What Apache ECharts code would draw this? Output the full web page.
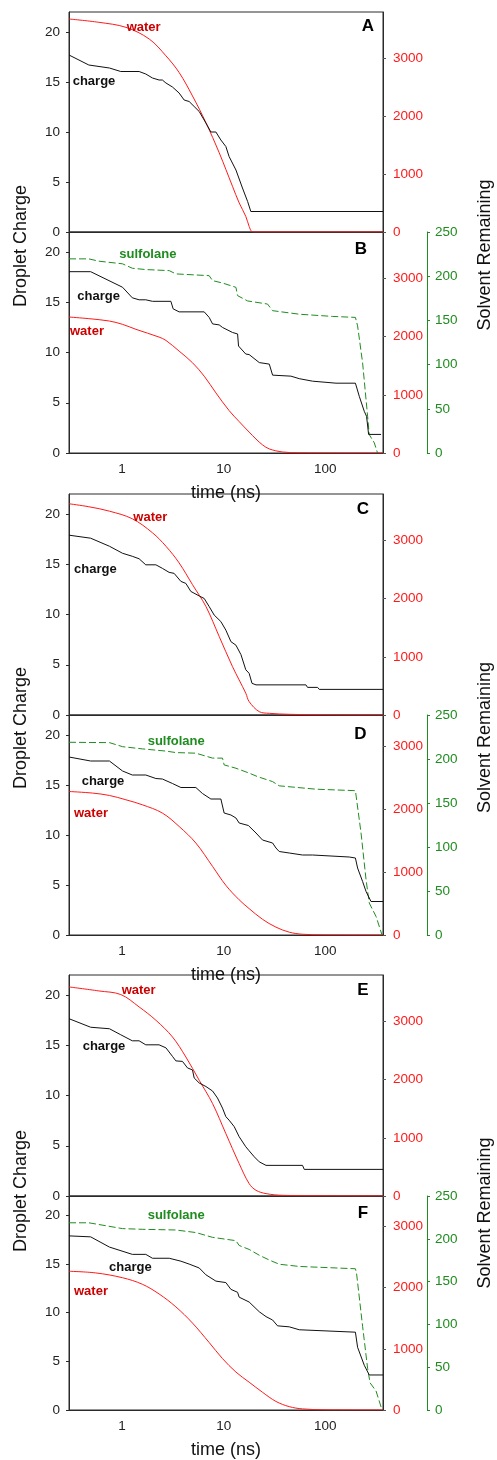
<!DOCTYPE html>
<html>
<head>
<meta charset="utf-8">
<script src="https://cdn.jsdelivr.net/npm/echarts@6/dist/echarts.min.js"></script>
<style>
html,body{margin:0;padding:0;background:#fff;}
#chart{width:497px;height:1460px;}
</style>
</head>
<body>
<div id="chart"></div>
<script>
// ---------- DATA ([time (ns), value]) ----------
const panelLetters = ['A','B','C','D','E','F'];
const timeTickLabels = [1, 10, 100];
const chargeTicks = [0, 5, 10, 15, 20];
const waterTicks = [0, 1000, 2000, 3000];
const sulfolaneTicks = [0, 50, 100, 150, 200, 250];

// Panel A
const chargeA = [[0.3,17.7],[0.47,16.7],[0.75,16.4],[0.97,16.05],[1.47,16.05],[1.71,15.8],[1.99,15.4],[2.31,15.2],[2.49,15.2],[2.7,14.9],[3.13,14.5],[3.64,13.9],[4.08,13.2],[4.57,13.05],[5.12,12.55],[5.74,12.05],[6.68,10.9],[7.48,10.0],[8.38,10.0],[9.38,9.2],[10.5,8.55],[11.3,7.55],[13.2,6.2],[15.3,4.4],[17.2,3.05],[18.5,2.05],[370,2.05]];
const waterA = [[0.3,3679],[0.59,3622],[1.09,3535],[1.85,3333],[2.7,3043],[3.64,2755],[4.93,2350],[6.68,1889],[9.03,1369],[12.2,790],[14.2,503],[16.5,270],[17.8,97],[18.9,10],[20.5,0],[370,0]];

// Panel B
const sulfolaneB = [[0.3,219.6],[0.47,219.6],[0.59,217],[1.01,214],[1.26,209],[1.71,207.5],[2.91,206.3],[3.38,202.6],[5.32,201.4],[7.19,200.6],[7.77,195],[9.73,192.3],[13.2,187.4],[13.7,178],[17.2,172],[27,168.5],[30.3,161],[55.4,157],[118,154.5],[198,153.4],[208,143.8],[233,102],[261,41.6],[271,20.8],[304,11.4],[327,0]];
const chargeB = [[0.3,18.05],[0.49,18.05],[1.01,16.5],[1.26,15.45],[1.47,15.25],[1.71,15.25],[1.99,15.1],[3.02,15.1],[3.18,14.35],[3.64,14.05],[6.43,14.05],[7.19,13.5],[7.77,12.85],[9.03,12.75],[9.73,12.5],[12.2,12.0],[13.7,11.85],[14.0,10.65],[16.5,9.85],[17.8,9.8],[22.4,9.0],[28.1,8.85],[30.3,7.75],[45.9,7.65],[55.4,7.4],[75,7.15],[127.5,6.95],[198,6.95],[216,5.65],[242,4.15],[255,3.65],[267,1.85],[354,1.85]];
const waterB = [[0.3,2338],[0.47,2310],[0.75,2269],[1.01,2212],[1.37,2126],[2.31,1993],[2.7,1936],[3.64,1752],[4.93,1552],[6.43,1321],[8.38,1034],[11.3,730],[14.2,540],[17.8,360],[20.8,240],[24.1,140],[28.1,70],[37.9,18],[55.4,4],[370,0]];

// Panel C
const chargeC = [[0.3,17.9],[0.49,17.6],[0.75,16.8],[1.01,16.1],[1.26,15.8],[1.47,15.55],[1.71,14.95],[2.15,14.95],[2.49,14.6],[2.9,14.2],[3.25,14.1],[3.79,13.3],[4.24,13.1],[4.75,12.3],[5.74,11.85],[6.43,11.6],[7.19,10.8],[8.06,9.95],[9.38,9.3],[10.5,8.45],[11.78,7.3],[13.2,6.95],[14.8,6.0],[16.5,4.5],[17.8,4.15],[19,3.15],[20.8,3.0],[64.5,3.0],[66.9,2.75],[84,2.75],[87.3,2.55],[370,2.55]];
const waterC = [[0.3,3632],[0.47,3581],[0.75,3505],[1.26,3374],[1.99,3133],[2.7,2902],[3.64,2615],[4.93,2241],[6.68,1867],[9.03,1350],[12.2,833],[16.5,374],[17.8,230],[22.4,57],[28.1,29],[44.2,12],[100,3],[370,0]];

// Panel D
const sulfolaneD = [[0.3,219],[0.75,218.6],[1.01,214],[1.58,211.5],[2.7,209],[3.38,207.3],[5.32,206.6],[7.77,201],[9.73,201],[10.1,193.3],[13.2,189.5],[17.8,184],[21.5,180],[30.3,174.3],[35.2,169.5],[81,165.7],[198,164],[201,163],[225,115.8],[252,62.8],[271,36.3],[316,21.1],[362,0]];
const chargeD = [[0.3,17.8],[0.49,17.4],[0.75,17.4],[1.01,16.4],[1.26,16.0],[1.71,16.0],[2.15,15.65],[2.49,15.6],[3.13,15.15],[3.79,14.75],[5.32,14.75],[6.18,14.15],[7.48,13.6],[9.38,13.6],[10.1,12.2],[11.78,12.0],[13.2,11.7],[14.2,11.2],[17.5,10.95],[20.8,10.2],[24.1,9.5],[30.3,9.2],[32.7,8.7],[35.2,8.35],[44.2,8.2],[59.7,8.0],[75,8.0],[77.9,7.85],[172,7.8],[198,7.7],[208,6.7],[233,5.35],[252,4.35],[282,3.35],[370,3.35]];
const waterD = [[0.3,2283],[0.51,2258],[0.75,2220],[1.09,2151],[1.58,2072],[2.49,1940],[3.64,1727],[5.32,1463],[7.77,1091],[10.5,790],[14.2,560],[17.8,420],[24.1,250],[32.7,125],[44.2,45],[59.7,12],[100,2],[370,0]];

// Panel E
const chargeE = [[0.3,17.65],[0.49,16.8],[0.75,16.65],[0.97,16.05],[1.26,15.45],[1.47,15.45],[1.71,15.05],[2.31,15.05],[2.7,14.75],[3.13,13.9],[3.38,13.45],[3.93,13.4],[4.4,12.75],[4.93,12.55],[5.12,11.75],[5.74,11.25],[6.68,10.9],[7.77,10.45],[8.69,9.75],[9.73,8.75],[10.5,7.9],[11.3,7.55],[12.7,6.9],[14.2,5.9],[16.5,4.9],[17.8,4.5],[20.0,3.9],[22.4,3.4],[26.1,3.05],[59.7,3.05],[62.1,2.65],[370,2.65]];
const waterE = [[0.3,3595],[0.59,3526],[0.97,3464],[1.47,3251],[2.15,3022],[3.13,2735],[4.24,2391],[5.74,1990],[7.77,1589],[10.5,1073],[14.2,557],[17.8,213],[20.8,98],[26.1,41],[37.9,12],[100,3],[370,0]];

// Panel F
const sulfolaneF = [[0.3,218.7],[0.47,218.7],[1.01,211.9],[1.58,211.1],[3.38,210.3],[5.32,207.3],[7.77,201.7],[13.2,197.8],[14.2,192.2],[17.8,187.6],[22.4,180.8],[28.1,175.2],[35.2,170.3],[55.4,167.7],[198,165],[203,160],[233,97.8],[261,48.7],[276,31.7],[316,22.2],[362,0]];
const chargeF = [[0.3,17.9],[0.49,17.8],[0.75,16.75],[1.26,16.0],[1.71,16.0],[1.99,15.6],[2.91,15.6],[3.79,15.3],[4.57,15.0],[5.74,14.6],[6.68,13.9],[8.38,13.25],[10.5,13.1],[11.78,12.4],[13.7,12.1],[14.2,11.6],[17.8,11.1],[22.4,10.1],[26.1,9.6],[30.3,9.25],[33.9,8.65],[44.2,8.55],[55.4,8.25],[198,8.0],[208,6.45],[242,4.6],[271,3.6],[370,3.6]];
const waterF = [[0.3,2269],[0.55,2242],[1.01,2163],[1.58,2057],[2.31,1898],[3.38,1687],[4.93,1422],[7.19,1104],[9.73,841],[13.2,620],[17.8,455],[24.1,290],[32.7,140],[44.2,55],[59.7,18],[100,3],[370,0]];

const panels = [
  {charge: chargeA, water: waterA, sulfolane: null, waterMax: 3800},
  {charge: chargeB, water: waterB, sulfolane: sulfolaneB, waterMax: 3800},
  {charge: chargeC, water: waterC, sulfolane: null, waterMax: 3800},
  {charge: chargeD, water: waterD, sulfolane: sulfolaneD, waterMax: 3500},
  {charge: chargeE, water: waterE, sulfolane: null, waterMax: 3800},
  {charge: chargeF, water: waterF, sulfolane: sulfolaneF, waterMax: 3500}
];

// ---------- LAYOUT / STYLE ----------
const gridTops = [12, 232, 494, 715, 975, 1196];
const gridHeights = [220, 221, 221, 220, 221, 220];
const FONT = "'Liberation Sans', Arial, Helvetica, sans-serif";
const RED = '#ff1a1a';
const RED_TEXT = '#cc0000';
const GREEN = '#1f8c1f';
const AXIS = '#2a2a2a';

const grids = [], xAxes = [], yAxes = [], series = [];
panels.forEach((p, i) => {
  grids.push({left: 69, width: 314, top: gridTops[i], height: gridHeights[i], show: true, borderColor: AXIS, borderWidth: 1, backgroundColor: 'transparent'});
  const hasX = (i % 2 === 1);
  xAxes.push({
    type: 'log', logBase: 10, gridIndex: i, min: 0.3, max: 370,
    axisLine: {show: true, lineStyle: {color: AXIS, width: 1}},
    axisTick: {show: false},
    splitLine: {show: false}, minorTick: {show: false},
    axisLabel: {show: hasX, color: '#222', fontSize: 13.5, fontFamily: FONT, margin: 9,
      formatter: v => { const l = Math.round(Math.log10(v) * 1000) / 1000; return (Number.isInteger(l) && timeTickLabels.includes(Math.round(v))) ? String(Math.round(v)) : ''; }},
    name: hasX ? 'time (ns)' : '', nameLocation: 'middle', nameGap: 31,
    nameTextStyle: {fontSize: 18, color: '#111', fontFamily: FONT}
  });
  const yBase = yAxes.length;
  yAxes.push({
    type: 'value', gridIndex: i, position: 'left', min: 0, max: 22, interval: 5,
    axisLine: {show: true, lineStyle: {color: AXIS}},
    axisTick: {show: true, length: 3, customValues: chargeTicks, lineStyle: {color: AXIS}},
    axisLabel: {customValues: chargeTicks, color: '#222', fontSize: 13.5, fontFamily: FONT, margin: 9},
    splitLine: {show: false}
  });
  yAxes.push({
    type: 'value', gridIndex: i, position: 'right', min: 0, max: p.waterMax, interval: 1000,
    axisLine: {show: true, lineStyle: {color: AXIS}},
    axisTick: {show: true, length: 3, customValues: waterTicks, lineStyle: {color: '#555'}},
    axisLabel: {customValues: waterTicks, color: RED, fontSize: 13.5, fontFamily: FONT, margin: 10,
      formatter: v => String(Math.round(v))},
    splitLine: {show: false}
  });
  if (p.sulfolane) {
    yAxes.push({
      type: 'value', gridIndex: i, position: 'right', offset: 44, min: 0, max: 250, interval: 50,
      axisLine: {show: true, lineStyle: {color: GREEN}},
      axisTick: {show: true, length: 3, customValues: sulfolaneTicks, lineStyle: {color: GREEN}},
      axisLabel: {customValues: sulfolaneTicks, color: GREEN, fontSize: 13.5, fontFamily: FONT, margin: 8,
        formatter: v => String(Math.round(v))},
      splitLine: {show: false}
    });
  }
  series.push({type: 'line', xAxisIndex: i, yAxisIndex: yBase + 1, data: p.water, symbol: 'none',
    smooth: 0.35, lineStyle: {color: RED, width: 1}, z: 2});
  if (p.sulfolane) {
    series.push({type: 'line', xAxisIndex: i, yAxisIndex: yBase + 2, data: p.sulfolane, symbol: 'none',
      lineStyle: {color: GREEN, width: 1, type: [7, 3]}, z: 3});
  }
  series.push({type: 'line', xAxisIndex: i, yAxisIndex: yBase, data: p.charge, symbol: 'none',
    lineStyle: {color: '#111', width: 1}, z: 4});
});

// ---------- TEXT ANNOTATIONS ----------
const letterPos = [[368,26],[361,249],[363,509],[360.5,734],[363,990.5],[363,1213.5]];
const notes = [
  ['water',126.7,27.7,RED_TEXT],['charge',72.7,81.7,'#111'],
  ['sulfolane',119.3,254,GREEN],['charge',77.3,296.7,'#111'],['water',70,331.7,RED_TEXT],
  ['water',133.3,517.7,RED_TEXT],['charge',74,569,'#111'],
  ['sulfolane',147.7,741.7,GREEN],['charge',81.7,781.7,'#111'],['water',74,813.3,RED_TEXT],
  ['water',121.7,990.7,RED_TEXT],['charge',82.7,1046,'#111'],
  ['sulfolane',147.7,1215,GREEN],['charge',109,1267.7,'#111'],['water',74,1291.7,RED_TEXT]
];
const leftTitleY = [246, 728, 1191];
const rightTitleY = [255, 737.5, 1213];

const graphic = [];
panelLetters.forEach((L, i) => graphic.push({type: 'text', x: letterPos[i][0], y: letterPos[i][1], z: 10,
  style: {text: L, font: 'bold 17px ' + FONT, fill: '#000', textAlign: 'center', textVerticalAlign: 'middle'}}));
notes.forEach(n => graphic.push({type: 'text', x: n[1], y: n[2], z: 10,
  style: {text: n[0], font: 'bold 13px ' + FONT, fill: n[3], textAlign: 'left', textVerticalAlign: 'middle'}}));
leftTitleY.forEach(y => graphic.push({type: 'text', x: 21, y: y, rotation: Math.PI / 2, z: 10,
  style: {text: 'Droplet Charge', font: '18px ' + FONT, fill: '#111', textAlign: 'center', textVerticalAlign: 'middle'}}));
rightTitleY.forEach(y => graphic.push({type: 'text', x: 485, y: y, rotation: Math.PI / 2, z: 10,
  style: {text: 'Solvent Remaining', font: '18px ' + FONT, fill: '#111', textAlign: 'center', textVerticalAlign: 'middle'}}));

const chart = echarts.init(document.getElementById('chart'), null, {renderer: 'canvas'});
chart.setOption({
  animation: false,
  backgroundColor: '#fff',
  textStyle: {fontFamily: FONT},
  grid: grids, xAxis: xAxes, yAxis: yAxes, series: series, graphic: graphic
});
</script>
</body>
</html>
